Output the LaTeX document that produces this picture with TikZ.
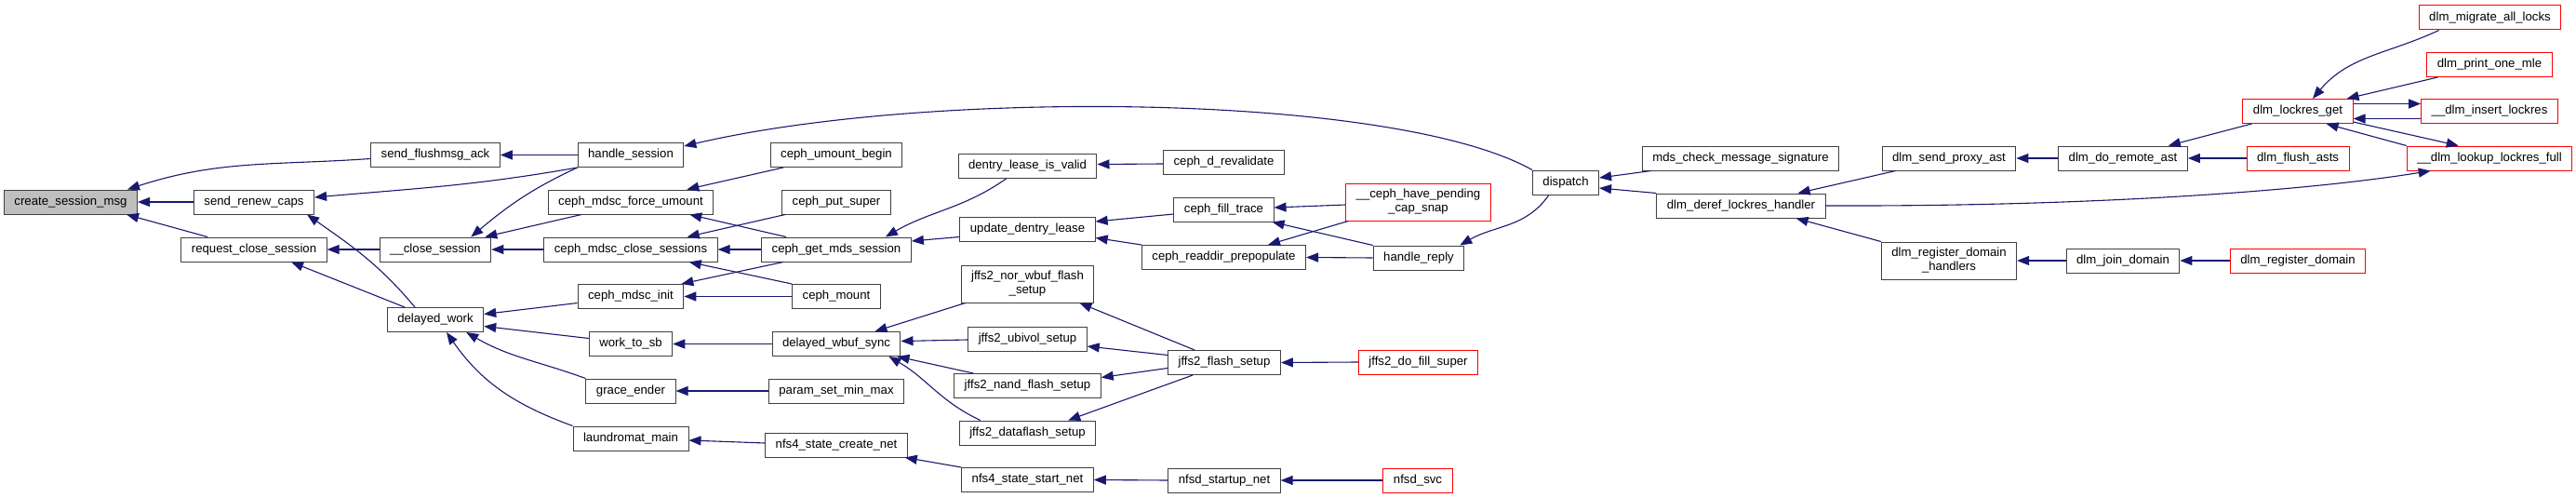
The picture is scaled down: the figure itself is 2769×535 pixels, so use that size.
\documentclass[tikz,border=0pt]{standalone}
\usepackage{fontspec}
\setmainfont{Liberation Sans}
\usetikzlibrary{shapes,arrows.meta,positioning}
\definecolor{edgeblue}{RGB}{25,25,112}
\definecolor{nodegrey}{RGB}{191,191,191}
\newcommand{\fnfont}{\fontsize{13.2}{15}\selectfont}

\begin{document}
\begin{tikzpicture}[x=1pt, y=1pt,
    fn/.style={draw=black!75, line width=1pt, fill=white, minimum height=26pt,
        inner xsep=11pt, inner ysep=0pt, font=\fnfont, align=center},
    fnred/.style={fn, draw=red},
    twoline/.style={minimum height=40pt},
    call/.style={-{Triangle[length=13pt,width=10pt]}, draw=edgeblue, line width=1.1pt}]
    \useasboundingbox (0,0) rectangle (2769,-535);

    % functions
    \node[fn, fill=nodegrey] (csm) at (76,-217) {create\_session\_msg};
    \node[fn] (src) at (273,-217) {send\_renew\_caps};
    \node[fn] (rcs) at (273,-268) {request\_close\_session};
    \node[fn] (sfa) at (468,-166.5) {send\_flushmsg\_ack};
    \node[fn] (closesess) at (468,-268) {\_\_close\_session};
    \node[fn] (dw) at (468,-343.5) {delayed\_work};
    \node[fn] (hs) at (678,-166.5) {handle\_session};
    \node[fn] (fu) at (678,-217) {ceph\_mdsc\_force\_umount};
    \node[fn] (mcs) at (678,-268) {ceph\_mdsc\_close\_sessions};
    \node[fn] (init) at (678,-318.5) {ceph\_mdsc\_init};
    \node[fn] (wts) at (678,-369.5) {work\_to\_sb};
    \node[fn] (ge) at (678,-420) {grace\_ender};
    \node[fn] (lm) at (678,-471) {laundromat\_main};
    \node[fn] (ub) at (899,-166.5) {ceph\_umount\_begin};
    \node[fn] (ps) at (899,-217) {ceph\_put\_super};
    \node[fn] (gms) at (899,-268) {ceph\_get\_mds\_session};
    \node[fn] (mnt) at (899,-318.5) {ceph\_mount};
    \node[fn] (dws) at (899,-369.5) {delayed\_wbuf\_sync};
    \node[fn] (psm) at (899,-420) {param\_set\_min\_max};
    \node[fn] (ncn) at (899,-478) {nfs4\_state\_create\_net};
    \node[fn] (dlv) at (1104.5,-178.5) {dentry\_lease\_is\_valid};
    \node[fn] (udl) at (1104.5,-246.5) {update\_dentry\_lease};
    \node[fn, twoline] (jnw) at (1104.5,-305) {jffs2\_nor\_wbuf\_flash\\\_setup};
    \node[fn] (jub) at (1104.5,-364) {jffs2\_ubivol\_setup};
    \node[fn] (jnd) at (1104.5,-414.5) {jffs2\_nand\_flash\_setup};
    \node[fn] (jdf) at (1104.5,-465) {jffs2\_dataflash\_setup};
    \node[fn] (nsn) at (1104.5,-515.5) {nfs4\_state\_start\_net};
    \node[fn] (cdr) at (1315.5,-174.5) {ceph\_d\_revalidate};
    \node[fn] (cft) at (1315.5,-225) {ceph\_fill\_trace};
    \node[fn] (crp) at (1315.5,-276.5) {ceph\_readdir\_prepopulate};
    \node[fn] (jfs) at (1316,-389.5) {jffs2\_flash\_setup};
    \node[fn] (nsu) at (1316,-516) {nfsd\_startup\_net};
    \node[fnred, twoline] (chp) at (1524.5,-217) {\_\_ceph\_have\_pending\\\_cap\_snap};
    \node[fn] (hr) at (1525,-277) {handle\_reply};
    \node[fnred] (jdfs) at (1524.5,-389) {jffs2\_do\_fill\_super};
    \node[fnred] (nsvc) at (1524,-516) {nfsd\_svc};
    \node[fn] (dsp) at (1683,-196) {dispatch};
    \node[fn] (mcms) at (1871,-170) {mds\_check\_message\_signature};
    \node[fn] (ddlh) at (1871.5,-221) {dlm\_deref\_lockres\_handler};
    \node[fn] (dspa) at (2095,-170) {dlm\_send\_proxy\_ast};
    \node[fn, twoline] (drdh) at (2095,-280) {dlm\_register\_domain\\\_handlers};
    \node[fn] (dra) at (2282,-170) {dlm\_do\_remote\_ast};
    \node[fn] (djd) at (2282,-280) {dlm\_join\_domain};
    \node[fnred] (dlg) at (2470,-119.5) {dlm\_lockres\_get};
    \node[fnred] (dfa) at (2470,-170) {dlm\_flush\_asts};
    \node[fnred] (drd) at (2470,-280) {dlm\_register\_domain};
    \node[fnred] (dmal) at (2676.5,-19) {dlm\_migrate\_all\_locks};
    \node[fnred] (dpom) at (2676,-69.5) {dlm\_print\_one\_mle};
    \node[fnred] (dins) at (2676,-119.5) {\_\_dlm\_insert\_lockres};
    \node[fnred] (dlk) at (2676,-170) {\_\_dlm\_lookup\_lockres\_full};

    % calls
    \draw[call] ([yshift=-4pt]sfa.west) to[out=184, in=18] ([xshift=-11pt]csm.north east);
    \draw[call] (src.west) -- (csm.east);
    \draw[call] ([xshift=-50pt]rcs.north) -- ([xshift=-12pt]csm.south east);
    \draw[call] (hs.west) -- (sfa.east);
    \draw[call] (hs.south west) to[out=190, in=5] ([yshift=5pt]src.east);
    \draw[call] (hs.south west) to[out=205, in=40] ([xshift=-22pt]closesess.north east);
    \draw[call] ([xshift=-22pt]dw.north) to[out=130, in=-35] ([xshift=-8pt]src.south east);
    \draw[call] ([xshift=-33pt]dw.north) -- ([xshift=40pt]rcs.south);
    \draw[call] (closesess.west) -- (rcs.east);
    \draw[call] ([xshift=-53pt]fu.south) -- ([xshift=-7pt]closesess.north east);
    \draw[call] (mcs.west) -- (closesess.east);
    \draw[call] ([xshift=-57pt]ub.south) -- ([xshift=-29pt]fu.north east);
    \draw[call] ([xshift=-54pt]gms.north) -- ([xshift=-26pt]fu.south east);
    \draw[call] ([xshift=-55pt]ps.south) -- ([xshift=-33pt]mcs.north east);
    \draw[call] (gms.west) -- (mcs.east);
    \draw[call] (mnt.north west) -- ([xshift=-31pt]mcs.south east);
    \draw[call] ([xshift=-57pt]gms.south) -- ([xshift=-3pt]init.north east);
    \draw[call] (mnt.west) -- (init.east);
    \draw[call] ([yshift=-7pt]init.west) -- ([yshift=6pt]dw.east);
    \draw[call] ([yshift=6pt]wts.west) -- ([yshift=-7pt]dw.east);
    \draw[call] (ge.north west) to[out=160, in=-30] ([xshift=-19pt]dw.south east);
    \draw[call] (lm.north west) to[out=160, in=-55] ([xshift=12pt]dw.south);
    \draw[call] (dws.west) -- (wts.east);
    \draw[call] (psm.west) -- (ge.east);
    \draw[call] ([yshift=2pt]ncn.west) -- ([yshift=-2pt]lm.east);
    \draw[call] ([xshift=-23pt]dlv.south) to[out=215, in=30] ([xshift=-28pt]gms.north east);
    \draw[call] ([yshift=-8pt]udl.west) -- ([yshift=9pt]gms.east);
    \draw[call] ([yshift=-1.5pt]cdr.west) -- ([yshift=2pt]dlv.east);
    \draw[call] ([yshift=-5pt]cft.west) -- ([yshift=8.5pt]udl.east);
    \draw[call] (crp.north west) -- ([yshift=-9pt]udl.east);
    \draw[call] ([xshift=5pt]jnw.south west) -- ([xshift=-28pt]dws.north east);
    \draw[call] ([yshift=-1pt]jub.west) -- ([yshift=3pt]dws.east);
    \draw[call] ([xshift=21pt]jnd.north west) -- ([xshift=-4pt]dws.south east);
    \draw[call] ([xshift=23pt]jdf.north west) to[out=155, in=-30] ([xshift=-13pt]dws.south east);
    \draw[call] (nsn.north west) -- ([xshift=-3pt]ncn.south east);
    \draw[call] ([xshift=29pt]jfs.north west) -- ([xshift=-16pt]jnw.south east);
    \draw[call] ([yshift=8pt]jfs.west) -- ([yshift=-8pt]jub.east);
    \draw[call] ([yshift=-6pt]jfs.west) -- ([yshift=9pt]jnd.east);
    \draw[call] ([xshift=27pt]jfs.south west) -- ([xshift=-30pt]jdf.north east);
    \draw[call] (nsu.west) -- (nsn.east);
    \draw[call] ([yshift=-3pt]chp.west) -- ([yshift=2pt]cft.east);
    \draw[call] ([xshift=3pt]chp.south west) -- ([xshift=-41pt]crp.north east);
    \draw[call] (hr.north west) -- ([xshift=-2pt]cft.south east);
    \draw[call] (hr.west) -- (crp.east);
    \draw[call] (jdfs.west) -- (jfs.east);
    \draw[call] (nsvc.west) -- (nsu.east);
    \draw[call] (dsp.north west) .. controls (1500,-100) and (1000,-95) .. ([yshift=-4pt]hs.north east);
    \draw[call] ([xshift=18pt]dsp.south west) to[out=235, in=30] ([xshift=-5pt]hr.north east);
    \draw[call] ([xshift=10pt]mcms.south west) -- ([yshift=5pt]dsp.east);
    \draw[call] (ddlh.north west) -- ([yshift=-6pt]dsp.east);
    \draw[call] ([xshift=15pt]dspa.south west) -- ([xshift=-30pt]ddlh.north east);
    \draw[call] (drdh.north west) -- ([xshift=-32pt]ddlh.south east);
    \draw[call] (ddlh.east) .. controls (2250,-222) and (2480,-205) .. ([xshift=26pt]dlk.south west);
    \draw[call] (dra.west) -- (dspa.east);
    \draw[call] (djd.west) -- (drdh.east);
    \draw[call] ([xshift=10pt]dlg.south west) -- ([xshift=-21pt]dra.north east);
    \draw[call] (dfa.west) -- (dra.east);
    \draw[call] (drd.west) -- (djd.east);
    \draw[call] ([xshift=22pt]dmal.south west) to[out=205, in=50] ([xshift=16pt]dlg.north);
    \draw[call] ([xshift=12pt]dpom.south west) -- ([xshift=-7pt]dlg.north east);
    \draw[call] ([yshift=8pt]dlg.east) -- ([yshift=8pt]dins.west);
    \draw[call] ([yshift=-8pt]dins.west) -- ([yshift=-8pt]dlg.east);
    \draw[call] ([yshift=2pt]dlg.south east) -- ([xshift=56pt]dlk.north west);
    \draw[call] (dlk.north west) -- ([xshift=-29pt]dlg.south east);
\end{tikzpicture}
\end{document}
